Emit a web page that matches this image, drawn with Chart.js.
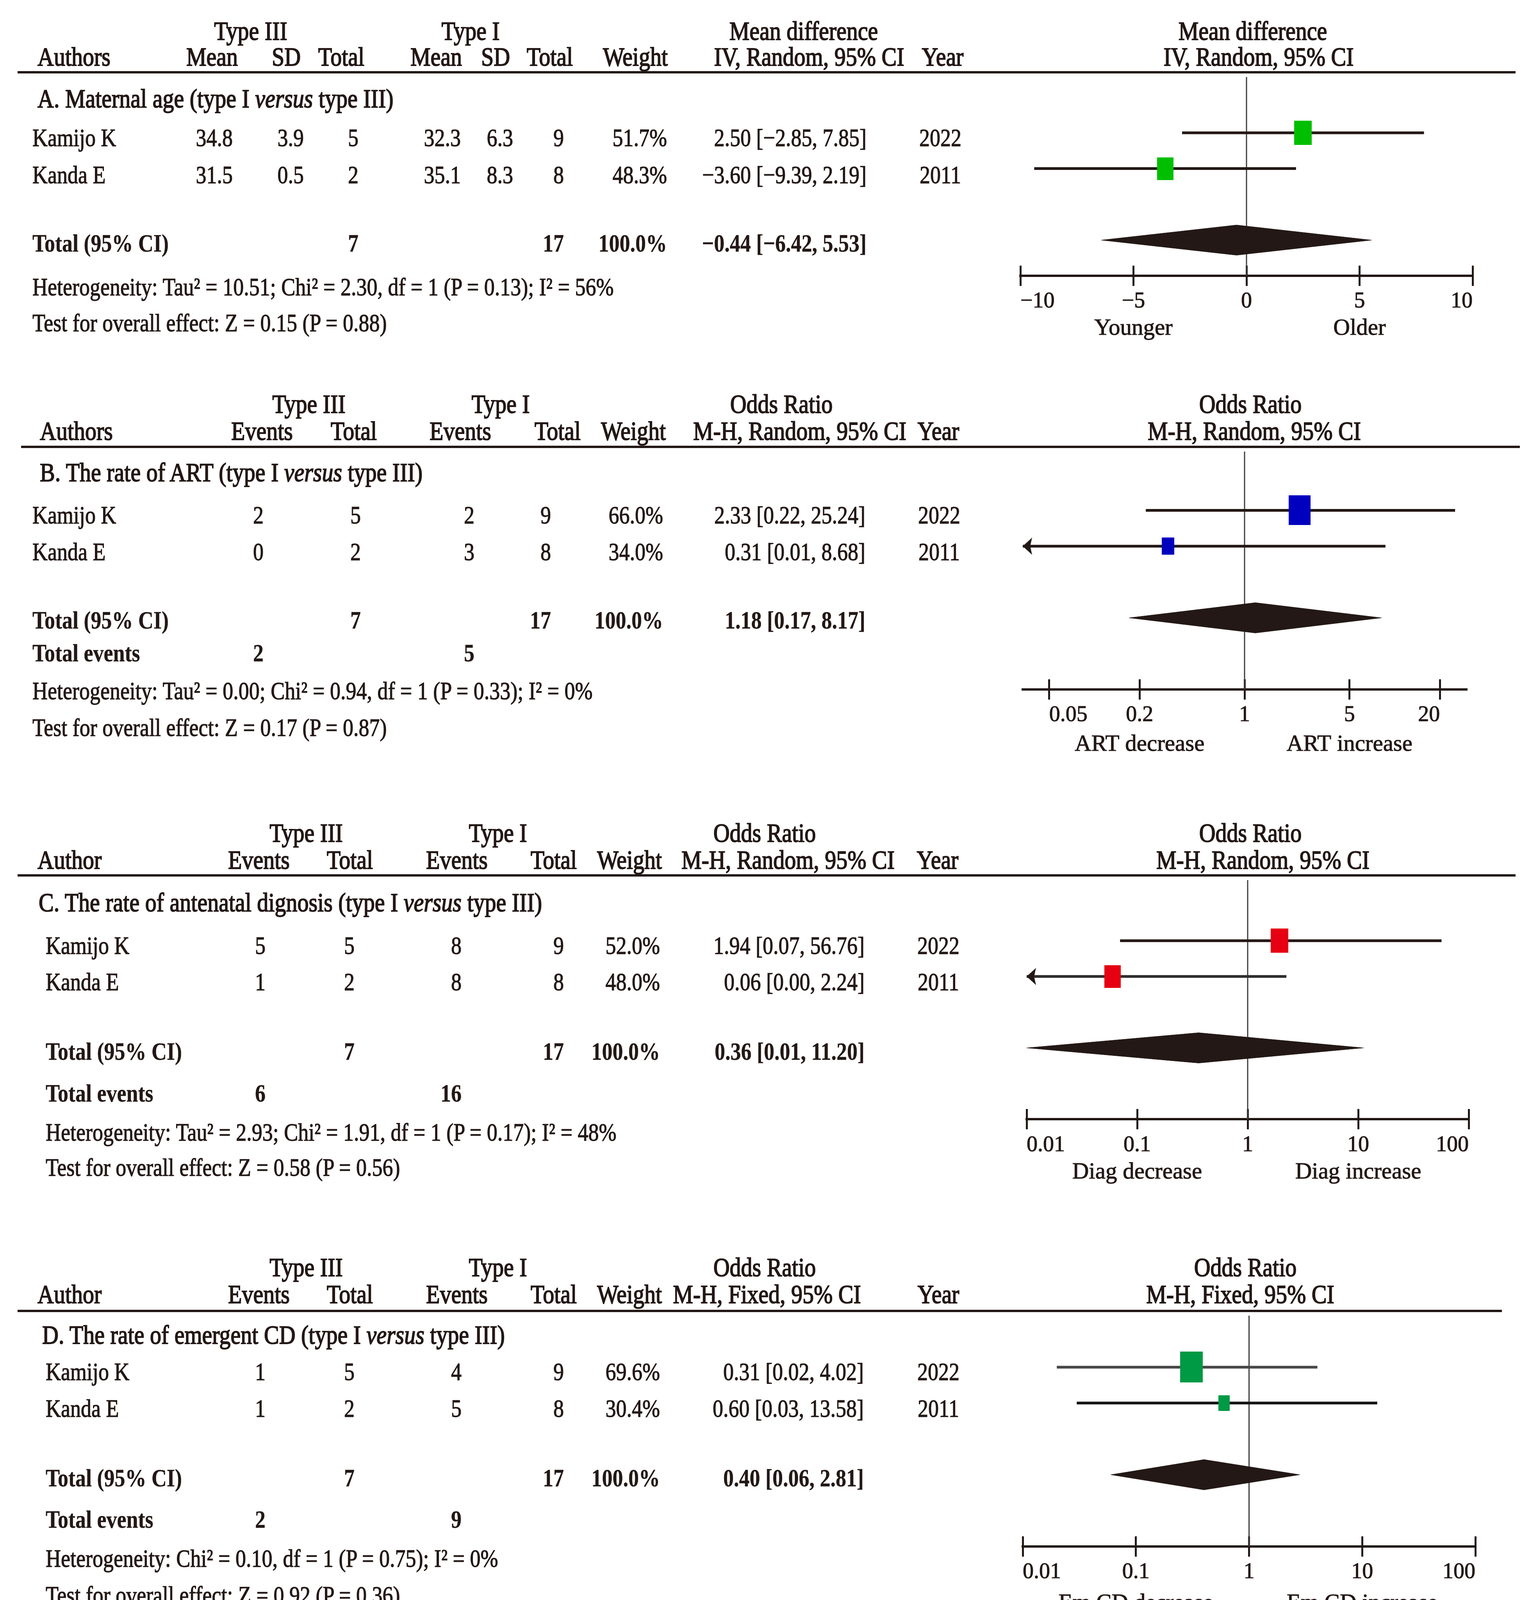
<!DOCTYPE html>
<html><head><meta charset="utf-8">
<script src="https://cdn.jsdelivr.net/npm/chart.js@4.4.1/dist/chart.umd.min.js"></script>
<style>
html,body{margin:0;padding:0;background:#fff;}
body{width:3941px;height:5139px;position:relative;overflow:hidden;font-family:'Liberation Serif','Times New Roman',serif;color:#231815;}
.t{position:absolute;white-space:nowrap;line-height:60px;height:60px;font-size:54px;transform-origin:50% 50%;-webkit-text-stroke:1.1px #231815;}
.h{font-size:58px;-webkit-text-stroke:1.7px #231815;}
.b{font-weight:bold;-webkit-text-stroke:0.4px #231815;}
.rule{position:absolute;height:6px;background:#231815;}
canvas{position:absolute;}
</style></head><body>
<script>
// ---------------- DATA ----------------
const studies = ['Kamijo K', 'Kanda E'];
const years = [2022, 2011];

// A. Maternal age
const ageT3Mean = [34.8, 31.5], ageT3SD = [3.9, 0.5], ageT3Total = [5, 2];
const ageT1Mean = [32.3, 35.1], ageT1SD = [6.3, 8.3], ageT1Total = [9, 8];
const ageWeight = [51.7, 48.3];
const ageMD = [2.50, -3.60], ageLow = [-2.85, -9.39], ageHigh = [7.85, 2.19];
const ageOverall = [-0.44, -6.42, 5.53];
const ageHet = 'Heterogeneity: Tau\u00B2 = 10.51; Chi\u00B2 = 2.30, df = 1 (P = 0.13); I\u00B2 = 56%';
const ageTest = 'Test for overall effect: Z = 0.15 (P = 0.88)';
const ageDirVals = [-5, 5], ageDirLabels = ['Younger', 'Older'];

// B. ART
const artT3Ev = [2, 0], artT3Total = [5, 2], artT1Ev = [2, 3], artT1Total = [9, 8];
const artWeight = [66.0, 34.0];
const artOR = [2.33, 0.31], artLow = [0.22, 0.01], artHigh = [25.24, 8.68];
const artOverall = [1.18, 0.17, 8.17];
const artHet = 'Heterogeneity: Tau\u00B2 = 0.00; Chi\u00B2 = 0.94, df = 1 (P = 0.33); I\u00B2 = 0%';
const artTest = 'Test for overall effect: Z = 0.17 (P = 0.87)';
const artDirVals = [0.2, 5], artDirLabels = ['ART decrease', 'ART increase'];

// C. Antenatal diagnosis
const diagT3Ev = [5, 1], diagT3Total = [5, 2], diagT1Ev = [8, 8], diagT1Total = [9, 8];
const diagWeight = [52.0, 48.0];
const diagOR = [1.94, 0.06], diagLow = [0.07, 0.00], diagHigh = [56.76, 2.24];
const diagOverall = [0.36, 0.01, 11.20];
const diagHet = 'Heterogeneity: Tau\u00B2 = 2.93; Chi\u00B2 = 1.91, df = 1 (P = 0.17); I\u00B2 = 48%';
const diagTest = 'Test for overall effect: Z = 0.58 (P = 0.56)';
const diagDirVals = [0.1, 10], diagDirLabels = ['Diag decrease', 'Diag increase'];

// D. Emergent CD
const cdT3Ev = [1, 1], cdT3Total = [5, 2], cdT1Ev = [4, 5], cdT1Total = [9, 8];
const cdWeight = [69.6, 30.4];
const cdOR = [0.31, 0.60], cdLow = [0.02, 0.03], cdHigh = [4.02, 13.58];
const cdOverall = [0.40, 0.06, 2.81];
const cdHet = 'Heterogeneity: Chi\u00B2 = 0.10, df = 1 (P = 0.75); I\u00B2 = 0%';
const cdTest = 'Test for overall effect: Z = 0.92 (P = 0.36)';
const cdDirVals = [0.1, 10], cdDirLabels = ['Em CD decrease', 'Em CD increase'];

// E. GA at delivery
const gaT3Mean = [35.8, 36], gaT3SD = [1.6, 4], gaT3Total = [5, 2];
const gaT1Mean = [36, 33.1], gaT1SD = [1.9, 2.3], gaT1Total = [9, 8];
const gaWeight = [90.5, 9.5];
const gaMD = [-0.20, 2.90], gaLow = [-2.07, -2.87], gaHigh = [1.67, 8.67];
const gaOverall = [0.10, -1.69, 1.88];
const gaHet = 'Heterogeneity: Chi\u00B2 = 1.00, df = 1 (P = 0.32); I\u00B2 = 0%';
const gaTest = 'Test for overall effect: Z = 0.11 (P = 0.92)';
const gaDirVals = [-5, 5], gaDirLabels = ['GA early', 'GA late'];

// axes
const mdRange = [-10, 10], mdTicks = [-10, -5, 0, 5, 10], mdTickLabels = ['\u221210', '\u22125', '0', '5', '10'];
const artRange = [1 / 30, 30], artTicks = [0.05, 0.2, 1, 5, 20], artTickLabels = ['0.05', '0.2', '1', '5', '20'];
const orRange = [0.01, 100], orTicks = [0.01, 0.1, 1, 10, 100], orTickLabels = ['0.01', '0.1', '1', '10', '100'];

const contHeads = ['Mean', 'SD', 'Total', 'Mean', 'SD', 'Total'];
const binHeads = ['Events', 'Total', 'Events', 'Total'];

// ---------------- LAYOUT / STYLE ----------------
const DARK = '#231815';
const FONT = "'Liberation Serif','Times New Roman',serif";
const TXT_SCALE = 1.18;

const LA = {h1:80,h2:146,ruleY:185,ruleX0:45,ruleX1:3881,authX:96,g3:642,g1:1205,colC:[543,733,874,1117,1269,1408],wC:1627,e1:2058,e2:2072,yearH:2414,p1:3208,p2:3223,subX:96,subY:253,rowX:83,rowY:[353,448],colR:[596,778,918,1180,1314,1444],wR:1708,eR:2219,yearC:2408,totY:623,totEvY:null,hetY:735,testY:827,ax0:2613,ax1:3771,row0Y:333,rowH:94.75,axisRow:4,tickY:778,dirY:847};
const LB = {h1:1035,h2:1104,ruleY:1144,ruleX0:54,ruleX1:3892,authX:102,g3:791,g1:1282,colC:[671,906,1179,1428],wC:1622,e1:2001,e2:2048,yearH:2403,p1:3202,p2:3212,subX:102,subY:1210,rowX:83,rowY:[1319,1413],colR:[675,924,1215,1411],wR:1698,eR:2216,yearC:2405,totY:1588,totEvY:1672,hetY:1769,testY:1863,ax0:2619,ax1:3755,row0Y:1299,rowH:94.5,axisRow:5,tickY:1838,dirY:1913};
const LC = {h1:2133,h2:2202,ruleY:2241,ruleX0:45,ruleX1:3881,authX:96,g3:784,g1:1275,colC:[663,896,1170,1418],wC:1612,e1:1958,e2:2018,yearH:2401,p1:3202,p2:3234,subX:99,subY:2311,rowX:117,rowY:[2421,2514],colR:[680,908,1182,1444],wR:1690,eR:2214,yearC:2403,totY:2692,totEvY:2799,hetY:2899,testY:2989,ax0:2629,ax1:3761,row0Y:2401,rowH:94.2,axisRow:5,tickY:2939,dirY:3008};
const LD = {h1:3245,h2:3314,ruleY:3356,ruleX0:45,ruleX1:3846,authX:96,g3:784,g1:1275,colC:[663,896,1170,1418],wC:1612,e1:1958,e2:1964,yearH:2403,p1:3189,p2:3176,subX:108,subY:3418,rowX:117,rowY:[3512,3606],colR:[680,908,1182,1444],wR:1690,eR:2212,yearC:2403,totY:3784,totEvY:3890,hetY:3990,testY:4084,ax0:2619,ax1:3778,row0Y:3492,rowH:94.6,axisRow:5,tickY:4031,dirY:4112};
const LE = {h1:4304,h2:4374,ruleY:4417,ruleX0:45,ruleX1:3823,authX:108,g3:712,g1:1231,colC:[540,730,869,1099,1249,1389],wC:1615,e1:1980,e2:1981,yearH:2393,p1:3186,p2:3163,subX:108,subY:4488,rowX:117,rowY:[4582,4675],colR:[563,722,893,1140,1281,1426],wR:1665,eR:2205,yearC:2398,totY:4851,totEvY:null,hetY:4962,testY:5052,ax0:2603,ax1:3782,row0Y:4562,rowH:94.75,axisRow:4,tickY:5007,dirY:5075};

const panels = [
  {title:'A. Maternal age', authHead:'Authors', heads:contHeads, cols:[ageT3Mean,ageT3SD,ageT3Total,ageT1Mean,ageT1SD,ageT1Total], nCols:[2,5], evCols:null,
   weight:ageWeight, est:ageMD, low:ageLow, high:ageHigh, overall:ageOverall, eff1:'Mean difference', eff2:'IV, Random, 95% CI', het:ageHet, test:ageTest,
   scale:'linear', range:mdRange, ticks:mdTicks, tickLabels:mdTickLabels, nullVal:0, dirVals:ageDirVals, dirLabels:ageDirLabels, color:'#00bf00', ciColors:[DARK, DARK], L:LA},
  {title:'B. The rate of ART', authHead:'Authors', heads:binHeads, cols:[artT3Ev,artT3Total,artT1Ev,artT1Total], nCols:[1,3], evCols:[0,2],
   weight:artWeight, est:artOR, low:artLow, high:artHigh, overall:artOverall, eff1:'Odds Ratio', eff2:'M-H, Random, 95% CI', het:artHet, test:artTest,
   scale:'logarithmic', range:artRange, ticks:artTicks, tickLabels:artTickLabels, nullVal:1, dirVals:artDirVals, dirLabels:artDirLabels, color:'#0000bf', ciColors:[DARK, DARK], L:LB},
  {title:'C. The rate of antenatal dignosis', authHead:'Author', heads:binHeads, cols:[diagT3Ev,diagT3Total,diagT1Ev,diagT1Total], nCols:[1,3], evCols:[0,2],
   weight:diagWeight, est:diagOR, low:diagLow, high:diagHigh, overall:diagOverall, eff1:'Odds Ratio', eff2:'M-H, Random, 95% CI', het:diagHet, test:diagTest,
   scale:'logarithmic', range:orRange, ticks:orTicks, tickLabels:orTickLabels, nullVal:1, dirVals:diagDirVals, dirLabels:diagDirLabels, color:'#e60012', ciColors:[DARK, '#2e2e2e'], L:LC},
  {title:'D. The rate of emergent CD', authHead:'Author', heads:binHeads, cols:[cdT3Ev,cdT3Total,cdT1Ev,cdT1Total], nCols:[1,3], evCols:[0,2],
   weight:cdWeight, est:cdOR, low:cdLow, high:cdHigh, overall:cdOverall, eff1:'Odds Ratio', eff2:'M-H, Fixed, 95% CI', het:cdHet, test:cdTest,
   scale:'logarithmic', range:orRange, ticks:orTicks, tickLabels:orTickLabels, nullVal:1, dirVals:cdDirVals, dirLabels:cdDirLabels, color:'#009944', ciColors:['#474747', '#141414'], L:LD},
  {title:'E. GA at delivery', authHead:'Author', heads:contHeads, cols:[gaT3Mean,gaT3SD,gaT3Total,gaT1Mean,gaT1SD,gaT1Total], nCols:[2,5], evCols:null,
   weight:gaWeight, est:gaMD, low:gaLow, high:gaHigh, overall:gaOverall, eff1:'Mean Difference', eff2:'IV, Fixed, 95% CI', het:gaHet, test:gaTest,
   scale:'linear', range:mdRange, ticks:mdTicks, tickLabels:mdTickLabels, nullVal:0, dirVals:gaDirVals, dirLabels:gaDirLabels, color:'#6a1782', ciColors:[DARK, DARK], L:LE}
];

// ---------------- HELPERS ----------------
function put(x, y, s, align, cls, html) {
  const d = document.createElement('div');
  d.className = 't' + (cls ? ' ' + cls : '');
  d.style.left = x + 'px';
  d.style.top = (y - 30) + 'px';
  const tx = align === 'center' ? 'translateX(-50%) ' : align === 'right' ? 'translateX(-100%) ' : '';
  d.style.transform = tx + 'scaleY(' + TXT_SCALE + ')';
  if (html) d.innerHTML = s; else d.textContent = s;
  document.body.appendChild(d);
}
const fmt2 = v => (v < 0 ? '\u2212' : '') + Math.abs(v).toFixed(2);
const ciText = (e, l, h) => fmt2(e) + ' [' + fmt2(l) + ', ' + fmt2(h) + ']';
const sum = a => a.reduce((s, v) => s + v, 0);

function rectImg(w, h, color) {
  const c = document.createElement('canvas');
  c.width = Math.max(2, Math.round(w)); c.height = Math.max(2, Math.round(h));
  const g = c.getContext('2d'); g.fillStyle = color; g.fillRect(0, 0, c.width, c.height);
  return c;
}
function arrowImg(len, ht, color) {
  const c = document.createElement('canvas');
  c.width = 2 * len; c.height = ht;
  const g = c.getContext('2d'); g.fillStyle = color;
  g.beginPath(); g.moveTo(len, ht / 2); g.lineTo(2 * len, 0); g.lineTo(2 * len - 5, ht / 2); g.lineTo(2 * len, ht); g.closePath(); g.fill();
  return c;
}

Chart.defaults.font.family = FONT;
Chart.defaults.color = DARK;

function drawTable(p) {
  const L = p.L;
  put(L.g3, L.h1, 'Type III', 'center', 'h');
  put(L.g1, L.h1, 'Type I', 'center', 'h');
  put(L.e1, L.h1, p.eff1, 'center', 'h');
  put(L.p1, L.h1, p.eff1, 'center', 'h');
  put(L.authX, L.h2, p.authHead, 'left', 'h');
  p.heads.forEach((h, j) => put(L.colC[j], L.h2, h, 'center', 'h'));
  put(L.wC, L.h2, 'Weight', 'center', 'h');
  put(L.e2, L.h2, p.eff2, 'center', 'h');
  put(L.yearH, L.h2, 'Year', 'center', 'h');
  put(L.p2, L.h2, p.eff2, 'center', 'h');
  const r = document.createElement('div');
  r.className = 'rule';
  r.style.left = L.ruleX0 + 'px'; r.style.width = (L.ruleX1 - L.ruleX0) + 'px'; r.style.top = (L.ruleY - 3) + 'px';
  document.body.appendChild(r);
  put(L.subX, L.subY, p.title + ' (type I <i>versus</i> type III)', 'left', 'h', true);
  studies.forEach((s, i) => {
    const y = L.rowY[i];
    put(L.rowX, y, s, 'left');
    p.cols.forEach((col, j) => put(L.colR[j], y, String(col[i]), 'right'));
    put(L.wR, y, p.weight[i].toFixed(1) + '%', 'right');
    put(L.eR, y, ciText(p.est[i], p.low[i], p.high[i]), 'right');
    put(L.yearC, y, String(years[i]), 'center');
  });
  put(L.rowX, L.totY, 'Total (95% CI)', 'left', 'b');
  p.nCols.forEach(j => put(L.colR[j], L.totY, String(sum(p.cols[j])), 'right', 'b'));
  put(L.wR, L.totY, sum(p.weight).toFixed(1) + '%', 'right', 'b');
  put(L.eR, L.totY, ciText(p.overall[0], p.overall[1], p.overall[2]), 'right', 'b');
  if (p.evCols && L.totEvY) {
    put(L.rowX, L.totEvY, 'Total events', 'left', 'b');
    p.evCols.forEach(j => put(L.colR[j], L.totEvY, String(sum(p.cols[j])), 'right', 'b'));
  }
  put(L.rowX, L.hetY, p.het, 'left');
  put(L.rowX, L.testY, p.test, 'left');
}

function drawForest(p) {
  const L = p.L, padX = 40;
  const top = L.ruleY, bottom = L.dirY + 50;
  const W = L.ax1 - L.ax0 + 2 * padX, H = bottom - top;
  const cv = document.createElement('canvas');
  cv.width = W; cv.height = H;
  cv.style.left = (L.ax0 - padX) + 'px'; cv.style.top = top + 'px';
  cv.style.width = W + 'px'; cv.style.height = H + 'px';
  document.body.appendChild(cv);
  const toRow = py => (py - L.row0Y) / L.rowH;
  const yMin = toRow(top), yMax = toRow(bottom);
  const axisY = L.row0Y + L.axisRow * L.rowH;
  const totRow = 3, dHalf = 40 / L.rowH;
  const [xmin, xmax] = p.range;
  const TICK_FS = 56, DIR_FS = 59, TL = 23;

  const ds = [];
  ds.push({data:[{x:p.nullVal, y:yMin}, {x:p.nullVal, y:L.axisRow}], borderColor:'#3c3c3c', borderWidth:3, pointRadius:0, order:10, clip:false});
  p.est.forEach((e, i) => {
    ds.push({data:[{x:Math.max(p.low[i], xmin), y:i}, {x:Math.min(p.high[i], xmax), y:i}], borderColor:p.ciColors[i], borderWidth:7, pointRadius:0, order:5, clip:false});
  });
  const sq = p.weight.map(w => { const bw = 0.75 * w + 6; return rectImg(bw, 1.33 * bw + 2, p.color); });
  ds.push({data:p.est.map((e, i) => ({x:e, y:i})), showLine:false, pointStyle:c => sq[c.dataIndex] || sq[0], pointRadius:12, pointBorderWidth:0, order:1, clip:false});
  const clipped = p.low.map((l, i) => (l < xmin ? i : -1)).filter(i => i >= 0);
  if (clipped.length) {
    const arr = arrowImg(24, 44, DARK);
    ds.push({data:clipped.map(i => ({x:xmin, y:i})), showLine:false, pointStyle:arr, pointRadius:12, pointBorderWidth:0, order:1, clip:false});
  }
  const [oe, ol, oh] = p.overall;
  ds.push({data:[{x:ol, y:totRow}, {x:oe, y:totRow - dHalf}, {x:oh, y:totRow}], borderColor:DARK, borderWidth:1, pointRadius:0, fill:'+1', backgroundColor:DARK, order:0, clip:false});
  ds.push({data:[{x:ol, y:totRow}, {x:oe, y:totRow + dHalf}, {x:oh, y:totRow}], borderColor:DARK, borderWidth:1, pointRadius:0, fill:false, order:0, clip:false});

  const setTicks = vals => s => { s.ticks = vals.map(v => ({value:v})); };
  const base = {type:p.scale, axis:'x', min:xmin, max:xmax, bounds:'data', position:{y:L.axisRow}};
  new Chart(cv, {
    type:'line',
    data:{datasets:ds},
    options:{
      responsive:false, animation:false, events:[], devicePixelRatio:1,
      layout:{padding:{left:padX, right:padX, top:0, bottom:0}},
      plugins:{legend:{display:false}, tooltip:{enabled:false}},
      elements:{line:{tension:0}},
      scales:{
        x:Object.assign({}, base, {
          afterBuildTicks:setTicks(p.ticks),
          border:{display:true, width:6, color:DARK},
          grid:{display:true, drawOnChartArea:false, drawTicks:true, tickLength:TL, tickWidth:5, tickColor:DARK, lineWidth:5, color:DARK},
          ticks:{align:'inner', autoSkip:false, maxRotation:0, minRotation:0, color:DARK, textStrokeColor:DARK, textStrokeWidth:1.1,
                 padding:(L.tickY - axisY) - TL - TICK_FS / 2, font:{family:FONT, size:TICK_FS, lineHeight:1},
                 callback:(v, i) => p.tickLabels[i]}
        }),
        xt:Object.assign({}, base, {
          afterBuildTicks:setTicks(p.ticks),
          border:{display:false},
          grid:{display:true, drawOnChartArea:false, drawTicks:true, tickLength:-26, tickWidth:5, tickColor:DARK, lineWidth:5, color:DARK},
          ticks:{display:false}
        }),
        xd:Object.assign({}, base, {
          afterBuildTicks:setTicks(p.dirVals),
          border:{display:false},
          grid:{display:false, drawTicks:false},
          ticks:{autoSkip:false, maxRotation:0, minRotation:0, color:DARK, textStrokeColor:DARK, textStrokeWidth:1.1,
                 padding:(L.dirY - axisY) - DIR_FS / 2, font:{family:FONT, size:DIR_FS, lineHeight:1},
                 callback:(v, i) => p.dirLabels[i]}
        }),
        y:{type:'linear', min:yMin, max:yMax, reverse:true, display:false}
      }
    }
  });
}

panels.forEach(p => { drawTable(p); drawForest(p); });
</script>
</body></html>
